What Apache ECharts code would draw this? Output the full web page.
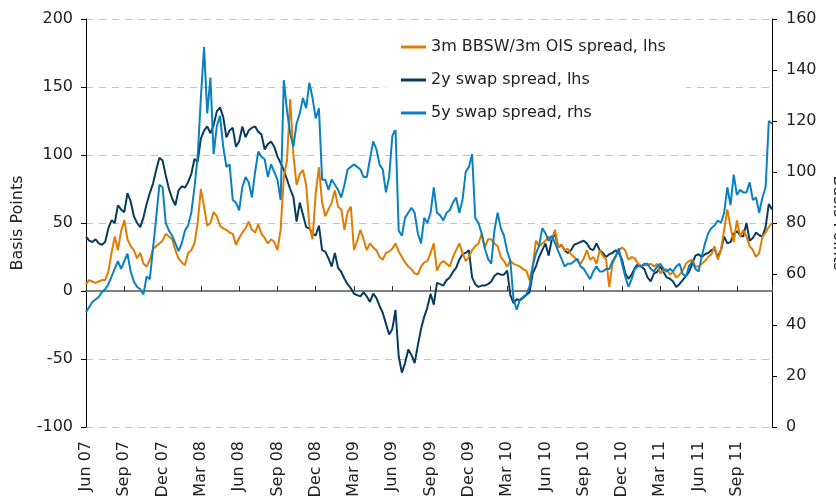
<!DOCTYPE html>
<html>
<head>
<meta charset="utf-8">
<script src="https://cdn.jsdelivr.net/npm/echarts@6/dist/echarts.min.js"></script>
<style>
  html, body { margin: 0; padding: 0; background: #fff; }
  #chart { width: 836px; height: 496px; }
</style>
</head>
<body>
<div id="chart"></div>
<script>
// one point per quarter-month (roughly weekly), starting Jun 07
const STEP = 0.25
const xTickLabels = ['Jun 07','Sep 07','Dec 07','Mar 08','Jun 08','Sep 08','Dec 08','Mar 09','Jun 09',
  'Sep 09','Dec 09','Mar 10','Jun 10','Sep 10','Dec 10','Mar 11','Jun 11','Sep 11']

// 3m BBSW/3m OIS spread, lhs
const bbswOis = [
  5,8,7,6, 7,8,8,14, 28,40,30,44, 52,38,33,30, 24,28,20,18, 23,31,33,35,
  37,42,40,38, 30,24,21,19, 28,30,35,50, 75,62,48,50, 58,55,48,46, 45,43,42,34,
  39,43,46,51, 45,43,49,42, 39,35,38,36, 30,45,84,96, 141,100,78,86, 89,78,48,38,
  72,91,65,55, 60,65,74,62, 60,45,58,62, 30,37,45,38, 30,35,32,30, 25,23,28,29,
  31,35,29,25, 21,18,16,13, 12,18,21,22, 28,35,15,20, 22,20,18,25, 30,35,28,22,
  25,30,33,35, 42,32,38,38, 35,33,25,22, 18,22,20,19, 18,16,15,8, 18,37,33,35,
  37,40,38,45, 32,34,30,31, 27,25,22,20, 24,30,23,25, 20,30,26,23, 3,20,25,30,
  32,30,23,25, 24,20,18,19, 19,20,18,20, 13,15,16,12, 14,10,12,15, 20,22,23,18,
  18,20,22,25, 27,33,23,30, 45,60,47,36, 52,40,45,40, 33,30,25,28, 40,43,47,50
]

// 2y swap spread, lhs
const swap2y = [
  40,37,36,38, 35,34,36,46, 52,50,63,60, 58,72,66,55, 50,47,54,64, 72,79,89,98,
  96,85,75,68, 63,74,77,76, 80,86,97,95, 112,118,121,116, 122,132,135,128, 113,118,120,106,
  110,121,113,118, 120,121,117,115, 104,108,110,106, 99,94,89,82, 75,69,51,65, 56,47,46,42,
  41,48,30,29, 24,18,28,17, 14,9,5,2, -2,-3,-4,-1, -4,-8,-2,-5, -11,-16,-24,-32,
  -28,-14,-48,-60, -53,-43,-47,-53, -40,-28,-19,-12, -2,-10,6,5, 4,8,10,14, 17,23,27,28,
  30,10,5,3, 4,4,5,7, 11,13,12,12, 15,-3,-9,-6, -7,-5,-3,-1, 13,18,25,30,
  35,26,38,42, 32,34,30,28, 30,34,35,36, 37,35,31,30, 35,30,28,25, 27,28,30,28,
  23,13,9,12, 17,20,18,16, 10,7,13,14, 18,14,10,9, 7,3,5,8, 11,14,20,26,
  27,25,27,28, 30,31,25,30, 40,35,36,42, 44,41,40,50, 37,39,43,41, 40,47,64,60
]

// 5y swap spread, rhs
const swap5y = [
  45,47,49,50, 51,53,54,56, 59,62,65,62, 65,68,61,57, 55,54,52,59, 58,70,82,95,
  94,80,77,75, 72,69,72,77, 79,84,94,106, 129,149,123,137, 107,118,122,110, 102,103,89,88,
  85,94,98,96, 90,100,108,106, 105,98,103,100, 97,89,136,124, 115,110,119,123, 129,125,135,129,
  121,125,97,97, 93,97,95,93, 90,95,101,102, 103,102,101,98, 98,105,112,109, 103,101,92,98,
  114,117,77,75, 82,84,86,84, 76,72,82,80, 84,94,84,83, 81,84,85,88, 90,84,89,100,
  102,107,82,80, 76,70,66,64, 77,84,78,75, 69,65,50,46, 50,51,52,55, 63,68,71,78,
  76,73,75,72, 69,66,63,64, 64,65,66,63, 62,60,58,61, 63,61,61,62, 62,65,67,70,
  64,59,55,58, 62,63,63,64, 64,62,61,63, 64,62,61,62, 61,63,64,60, 59,63,65,62,
  61,67,72,76, 78,79,81,80, 84,94,87,99, 91,93,92,92, 96,89,90,84, 90,94,120,119
]

const toPoints = (arr) => arr.map((v, i) => [i * STEP, v])
const xMax = (swap2y.length - 1) * STEP

const font = 'DejaVu Sans, Verdana, sans-serif'
const txt = '#222'

const myChart = echarts.init(document.getElementById('chart'))
myChart.setOption({
  animation: false,
  textStyle: { fontFamily: font },
  grid: { left: 86, right: 64, top: 19, bottom: 69, outerBoundsMode: 'none', containLabel: false },
  legend: {
    left: 386, top: 30,
    orient: 'vertical',
    backgroundColor: '#fff',
    padding: [9, 20, 9, 15],
    icon: 'rect',
    itemWidth: 25, itemHeight: 3,
    itemGap: 17,
    textStyle: { fontSize: 16, color: txt, fontFamily: font },
    data: ['3m BBSW/3m OIS spread, lhs', '2y swap spread, lhs', '5y swap spread, rhs']
  },
  xAxis: [{
    type: 'value', min: 0, max: xMax, interval: 3,
    position: 'bottom',
    axisLine: { show: false, onZero: false },
    axisTick: { show: false },
    splitLine: { show: false },
    axisLabel: {
      rotate: 90, margin: 14, fontSize: 16, color: txt, fontFamily: font,
      showMaxLabel: false,
      formatter(value) {
        if (value % 3 !== 0) return ''
        return xTickLabels[value / 3] || ''
      }
    }
  }, {
    // the zero line with its small upward ticks
    type: 'value', min: 0, max: xMax, interval: 3,
    position: 'bottom',
    axisLine: { show: true, onZero: true, onZeroAxisIndex: 0, lineStyle: { color: '#808080', width: 2 } },
    axisTick: { show: true, inside: true, length: 5, lineStyle: { color: '#333', width: 1 } },
    axisLabel: { show: false },
    splitLine: { show: false }
  }],
  yAxis: [{
    type: 'value', min: -100, max: 200, interval: 50,
    position: 'left',
    name: 'Basis Points', nameLocation: 'middle', nameGap: 53, nameRotate: 90,
    nameTextStyle: { fontSize: 16, color: txt, fontFamily: font },
    axisLine: { show: true, onZero: false, lineStyle: { color: '#000', width: 1 } },
    axisTick: { show: true, length: 5, lineStyle: { color: '#000' } },
    axisLabel: { margin: 13, fontSize: 16, color: txt, fontFamily: font },
    splitLine: { show: true, lineStyle: { color: '#c4c4c4', width: 1, type: [7, 6] } }
  }, {
    type: 'value', min: 0, max: 160, interval: 20,
    position: 'right',
    name: 'Basis Points', nameLocation: 'middle', nameGap: 58, nameRotate: -90,
    nameTextStyle: { fontSize: 16, color: txt, fontFamily: font },
    axisLine: { show: true, onZero: false, lineStyle: { color: '#000', width: 1 } },
    axisTick: { show: true, length: 5, lineStyle: { color: '#000' } },
    axisLabel: { margin: 14, fontSize: 16, color: txt, fontFamily: font },
    splitLine: { show: false }
  }],
  series: [{
    name: '2y swap spread, lhs',
    type: 'line', xAxisIndex: 0, yAxisIndex: 0,
    symbol: 'none',
    lineStyle: { width: 2, color: '#083c5e' },
    itemStyle: { color: '#083c5e' },
    data: toPoints(swap2y)
  }, {
    name: '3m BBSW/3m OIS spread, lhs',
    type: 'line', xAxisIndex: 0, yAxisIndex: 0,
    symbol: 'none',
    lineStyle: { width: 2, color: '#e07d00' },
    itemStyle: { color: '#e07d00' },
    data: toPoints(bbswOis)
  }, {
    name: '5y swap spread, rhs',
    type: 'line', xAxisIndex: 0, yAxisIndex: 1,
    symbol: 'none',
    lineStyle: { width: 2, color: '#0a80c0' },
    itemStyle: { color: '#0a80c0' },
    data: toPoints(swap5y)
  }]
})
</script>
</body>
</html>
